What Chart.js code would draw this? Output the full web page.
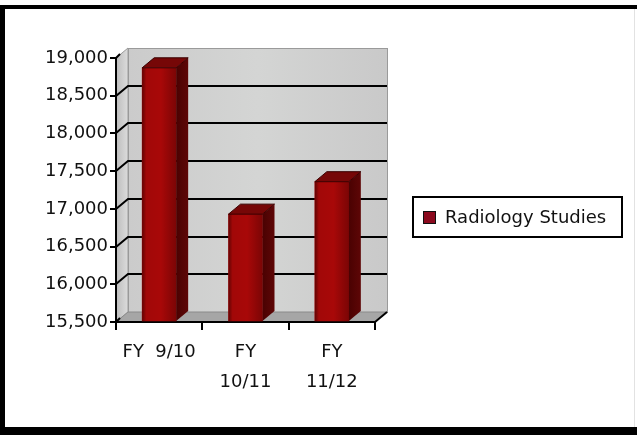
<!DOCTYPE html>
<html>
<head>
<meta charset="utf-8">
<script src="https://cdn.jsdelivr.net/npm/chart.js@4"></script>
<style>
  html, body { margin: 0; padding: 0; background: #fff; }
  #wrap { width: 637px; height: 435px; }
</style>
</head>
<body>
<div id="wrap"><canvas id="radiologyChart" width="637" height="435"></canvas></div>
<script>
const categories = ["FY  9/10", ["FY", "10/11"], ["FY", "11/12"]];
const radiologyStudies = [18870, 16930, 17360];
const seriesLabel = "Radiology Studies";
const yMin = 15500;
const yMax = 19000;
const yStep = 500;

// depth of the fake 3d box
const DX = 12;
const DY = -10;
const FONT = "'DejaVu Sans', sans-serif";

function fmt(v) {
  return Number(v).toLocaleString("en-US");
}

const box3d = {
  id: "box3d",
  beforeDraw(chart) {
    const { ctx, width, height, chartArea: a } = chart;
    const y = chart.scales.y;
    ctx.save();
    ctx.fillStyle = "#fff";
    ctx.fillRect(0, 0, width, height);

    // outer frame
    ctx.fillStyle = "#000";
    ctx.fillRect(0, 5, width, 4);
    ctx.fillRect(0, 5, 5, height - 5);
    ctx.fillRect(0, 427, width, 8);
    ctx.fillStyle = "#e2e2e2";
    ctx.fillRect(width - 3, 9, 1, 418);

    // back wall
    const g = ctx.createLinearGradient(a.left + DX, 0, a.right + DX, 0);
    g.addColorStop(0, "#cbcbcb");
    g.addColorStop(0.5, "#d4d5d4");
    g.addColorStop(1, "#c9c9c9");
    ctx.fillStyle = g;
    ctx.fillRect(a.left + DX, a.top + DY, a.right - a.left, a.bottom - a.top);
    ctx.strokeStyle = "#9a9a9a";
    ctx.lineWidth = 1;
    ctx.strokeRect(a.left + DX + 0.5, a.top + DY + 0.5, a.right - a.left, a.bottom - a.top);

    // left wall
    ctx.beginPath();
    ctx.moveTo(a.left, a.bottom);
    ctx.lineTo(a.left, a.top);
    ctx.lineTo(a.left + DX, a.top + DY);
    ctx.lineTo(a.left + DX, a.bottom + DY);
    ctx.closePath();
    const lg = ctx.createLinearGradient(a.left, 0, a.left + DX, 0);
    lg.addColorStop(0, "#bdbdbd");
    lg.addColorStop(1, "#dcdcdc");
    ctx.fillStyle = lg;
    ctx.fill();
    ctx.strokeStyle = "#9a9a9a";
    ctx.stroke();

    // floor
    ctx.beginPath();
    ctx.moveTo(a.left, a.bottom);
    ctx.lineTo(a.right, a.bottom);
    ctx.lineTo(a.right + DX, a.bottom + DY);
    ctx.lineTo(a.left + DX, a.bottom + DY);
    ctx.closePath();
    ctx.fillStyle = "#a6a6a6";
    ctx.fill();
    ctx.strokeStyle = "#8a8a8a";
    ctx.stroke();

    // gridlines on the walls
    ctx.strokeStyle = "#000";
    ctx.lineWidth = 2;
    y.ticks.forEach((t) => {
      if (t.value <= yMin || t.value >= yMax) return;
      const py = Math.round(y.getPixelForValue(t.value));
      ctx.beginPath();
      ctx.moveTo(a.left, py);
      ctx.lineTo(a.left + DX, py + DY);
      ctx.lineTo(a.right + DX, py + DY);
      ctx.stroke();
    });
    // slanted tick marks at the top and bottom
    [yMin, yMax].forEach((v) => {
      const py = Math.round(y.getPixelForValue(v));
      ctx.beginPath();
      ctx.moveTo(a.left, py);
      ctx.lineTo(a.left + 4, py - 4);
      ctx.stroke();
    });
    ctx.restore();
  },
  afterDatasetsDraw(chart) {
    const { ctx, chartArea: a } = chart;
    const meta = chart.getDatasetMeta(0);
    ctx.save();
    meta.data.forEach((bar) => {
      const p = bar.getProps(["x", "y", "base", "width"], true);
      const y = p.y;
      const base = Math.min(p.base, a.bottom);
      const l = p.x - p.width / 2;
      const r = p.x + p.width / 2;

      // front shading
      const fg = ctx.createLinearGradient(l, 0, r, 0);
      fg.addColorStop(0, "rgba(40,0,0,0.55)");
      fg.addColorStop(0.12, "rgba(40,0,0,0.05)");
      fg.addColorStop(0.55, "rgba(40,0,0,0)");
      fg.addColorStop(1, "rgba(40,0,0,0.35)");
      ctx.fillStyle = fg;
      ctx.fillRect(l, y, p.width, base - y);

      // side face
      ctx.beginPath();
      ctx.moveTo(r, y);
      ctx.lineTo(r + DX, y + DY);
      ctx.lineTo(r + DX, base + DY);
      ctx.lineTo(r, base);
      ctx.closePath();
      const sg = ctx.createLinearGradient(r, 0, r + DX, 0);
      sg.addColorStop(0, "#4a0202");
      sg.addColorStop(1, "#5e0606");
      ctx.fillStyle = sg;
      ctx.fill();

      // top face
      ctx.beginPath();
      ctx.moveTo(l, y);
      ctx.lineTo(l + DX, y + DY);
      ctx.lineTo(r + DX, y + DY);
      ctx.lineTo(r, y);
      ctx.closePath();
      ctx.fillStyle = "#760707";
      ctx.fill();
      ctx.strokeStyle = "#3a0000";
      ctx.lineWidth = 1;
      ctx.stroke();
    });
    ctx.restore();
  },
  afterDraw(chart) {
    const { ctx, chartArea: a } = chart;
    ctx.save();
    // slanted end of the category axis
    ctx.strokeStyle = "#000";
    ctx.lineWidth = 2;
    ctx.beginPath();
    ctx.moveTo(a.right, a.bottom);
    ctx.lineTo(a.right + DX, a.bottom + DY);
    ctx.stroke();

    // legend
    const lx = 413, ly = 197, lw = 209, lh = 40;
    ctx.lineWidth = 2;
    ctx.strokeStyle = "#000";
    ctx.strokeRect(lx, ly, lw, lh);
    ctx.fillStyle = "#8b0a1e";
    ctx.fillRect(lx + 10, ly + 14, 13, 13);
    ctx.lineWidth = 1;
    ctx.strokeStyle = "#111";
    ctx.strokeRect(lx + 10.5, ly + 14.5, 12, 12);
    ctx.fillStyle = "#111";
    ctx.font = "18px " + FONT;
    ctx.textBaseline = "middle";
    ctx.textAlign = "left";
    ctx.fillText(chart.data.datasets[0].label, lx + 32, ly + lh / 2 + 1);
    ctx.restore();
  },
};

const ctx = document.getElementById("radiologyChart").getContext("2d");

new Chart(ctx, {
  type: "bar",
  data: {
    labels: categories,
    datasets: [
      {
        label: seriesLabel,
        data: radiologyStudies,
        base: yMin,
        backgroundColor: "#a80808",
        borderWidth: 0,
        barThickness: 34,
      },
    ],
  },
  options: {
    responsive: false,
    animation: false,
    events: [],
    layout: { padding: { left: 0, top: 58, right: 262, bottom: 0 } },
    scales: {
      x: {
        afterFit: (s) => { s.height = 113; },
        grid: {
          offset: true,
          drawOnChartArea: false,
          tickLength: 8,
          color: "#000",
          lineWidth: 2,
        },
        border: { display: true, color: "#000", width: 2 },
        ticks: {
          color: "#111",
          padding: 7,
          maxRotation: 0,
          autoSkip: false,
          font: { family: FONT, size: 18, lineHeight: 1.667 },
        },
      },
      y: {
        min: yMin,
        max: yMax,
        afterFit: (s) => { s.width = 116; },
        grid: {
          drawOnChartArea: false,
          tickLength: 6,
          color: "#000",
          lineWidth: 2,
        },
        border: { display: true, color: "#000", width: 2 },
        ticks: {
          stepSize: yStep,
          color: "#111",
          padding: 2,
          font: { family: FONT, size: 18 },
          callback: (v) => fmt(v),
        },
      },
    },
    plugins: {
      legend: { display: false },
      tooltip: { enabled: false },
    },
  },
  plugins: [box3d],
});
</script>
</body>
</html>
